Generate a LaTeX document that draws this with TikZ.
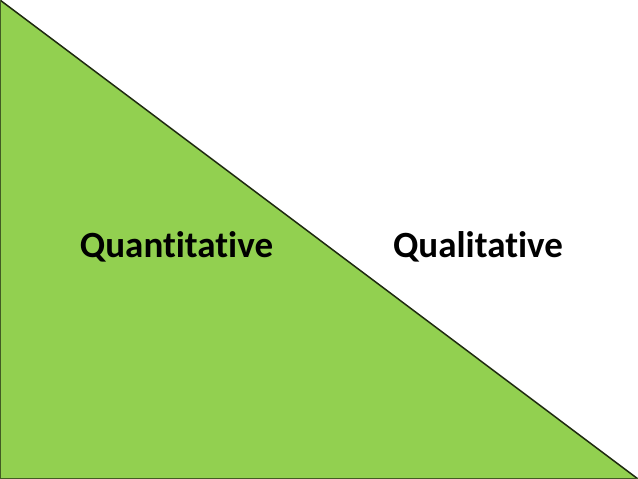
\documentclass[tikz,border=0pt]{standalone}
\usepackage{fontspec}
\setmainfont{Carlito}[Ligatures={NoCommon}, RawFeature={-liga}]
\definecolor{fillgreen}{HTML}{92D050}
\definecolor{edge}{HTML}{1F2A10}
\begin{document}
\begin{tikzpicture}[x=1pt,y=-1pt,
  label/.style={font=\bfseries\fontsize{37}{44}\selectfont, text=black, inner sep=0pt, anchor=base}]
\useasboundingbox (0,0) rectangle (638,479);
\coordinate (tl) at (0,0);
\coordinate (bl) at (0,479);
\coordinate (br) at (638,479);
\fill[fillgreen] (tl) -- (bl) -- (br) -- cycle;
\draw[edge, line width=1.5pt] (tl) -- (br);
\draw[edge!70!fillgreen, line width=2pt] (tl) -- (bl) -- (br);
\node[label] (quant) at (176.5,257) {Quantitative};
\node[label] (qual) at (478,257) {Qualitative};
\end{tikzpicture}
\end{document}
